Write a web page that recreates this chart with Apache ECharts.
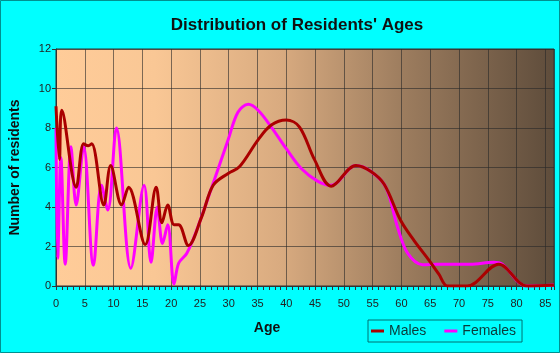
<!DOCTYPE html>
<html>
<head>
<meta charset="utf-8">
<script src="https://cdn.jsdelivr.net/npm/echarts@6/dist/echarts.min.js"></script>
<style>
  html, body { margin: 0; padding: 0; background: #00ffff; }
  #chart { width: 560px; height: 353px; }
</style>
</head>
<body>
<div id="chart"></div>
<script>
// ages, with the number of residents at each
const maleAges = [0, 0.6, 1, 3.5, 4.8, 5.6, 6.2, 8.3, 9.5, 11.4, 12.6, 15.5, 17.4, 18.4, 19.4, 20.5, 21.3, 23, 25.3, 27.3, 29.9, 31.9, 35.1, 37.4, 40, 42.3, 44.9, 47.8, 52.1, 54.7, 57, 59.9, 62.2, 64.8, 66.5, 68, 71.4, 76.9, 81.8, 86.5];
const maleValues = [9.1, 6.4, 8.9, 5.0, 7.2, 7.1, 7.2, 4.1, 6.1, 4.1, 5.0, 2.1, 5.0, 3.2, 4.1, 3.1, 3.1, 2.05, 3.5, 5.1, 5.7, 6.05, 7.4, 8.15, 8.4, 8.05, 6.4, 5.05, 6.1, 5.8, 5.15, 3.3, 2.3, 1.3, 0.6, 0, 0, 1.1, 0, 0.05];

const femaleAges = [0, 0.3, 0.85, 1.6, 2.6, 3.5, 4.8, 6.5, 7.9, 9.0, 10.5, 13, 15.3, 16.5, 17.6, 18.5, 19.4, 20.5, 21.3, 22.7, 24.4, 27.3, 29.9, 31.6, 33.4, 35.1, 37.4, 40, 42.6, 45.5, 47.8, 52.1, 54.7, 57.3, 59.3, 61.1, 63.7, 66.2, 72, 76, 77.5, 81.8, 86.5];
const femaleValues = [8, 1.4, 6.5, 1.1, 7.05, 4.1, 7.05, 1.05, 5.1, 3.85, 8.0, 0.9, 5.1, 1.2, 4.0, 2.15, 3.1, 0.1, 1.15, 1.65, 2.8, 5.2, 7.4, 8.8, 9.2, 8.9, 8.05, 6.95, 5.95, 5.3, 5.1, 6.1, 5.8, 5.0, 3.0, 1.65, 1.08, 1.1, 1.1, 1.2, 1.1, 0, 0.05];

const pairs = (xs, ys) => xs.map((x, i) => [x, ys[i]]);

const chart = echarts.init(document.getElementById("chart"));
const font = "Liberation Sans, Arial, sans-serif";

const option = {
  backgroundColor: "#00ffff",
  animation: false,
  title: {
    text: "Distribution of Residents' Ages",
    left: 292,
    top: 12,
    textAlign: "center",
    textStyle: { fontFamily: font, fontSize: 17, fontWeight: "bold", color: "#111" },
  },
  legend: {
    left: 368,
    top: 320,
    padding: [4, 6, 4, 3],
    itemGap: 18,
    itemWidth: 13,
    itemHeight: 3,
    icon: "rect",
    borderColor: "#007070",
    borderWidth: 1,
    data: ["Males", "Females"],
    textStyle: { fontFamily: font, fontSize: 14, color: "#0a3a3a" },
  },
  grid: {
    left: 54,
    right: 6,
    top: 49,
    bottom: 67,
    show: true,
    borderColor: "#333",
    borderWidth: 1,
    backgroundColor: {
      type: "linear", x: 0, y: 0, x2: 1, y2: 0,
      colorStops: [
        { offset: 0, color: "#ffcc99" },
        { offset: 0.2, color: "#f9c795" },
        { offset: 0.45, color: "#d9ab80" },
        { offset: 0.7, color: "#9c7c5e" },
        { offset: 1, color: "#5e4c3b" },
      ],
    },
  },
  xAxis: {
    type: "value",
    min: 0,
    max: 86.5,
    interval: 5,
    name: "Age",
    nameLocation: "middle",
    nameGap: 35,
    nameTextStyle: { fontFamily: font, fontSize: 14, fontWeight: "bold", color: "#111", padding: [0, 76, 0, 0] },
    axisLine: { lineStyle: { color: "#333" } },
    axisTick: { show: true, length: 4, lineStyle: { color: "#333" } },
    minorTick: { show: true, splitNumber: 5, length: 4, lineStyle: { color: "#333" } },
    axisLabel: { margin: 12, fontFamily: font, fontSize: 11, color: "#222" },
    splitLine: { show: true, lineStyle: { color: "rgba(40,40,40,0.6)" } },
  },
  yAxis: {
    type: "value",
    min: 0,
    max: 12,
    interval: 2,
    name: "Number of residents",
    nameLocation: "middle",
    nameGap: 34,
    nameTextStyle: { fontFamily: font, fontSize: 14, fontWeight: "bold", color: "#111" },
    axisLine: { show: true, lineStyle: { color: "#333" } },
    axisTick: { show: true, length: 4, lineStyle: { color: "#333" } },
    axisLabel: { margin: 5, fontFamily: font, fontSize: 11, color: "#222" },
    splitLine: { show: true, lineStyle: { color: "rgba(40,40,40,0.6)" } },
  },
  graphic: [
    {
      type: "rect",
      shape: { x: 0.5, y: 0.5, width: 559, height: 352 },
      style: { fill: "none", stroke: "#009090", lineWidth: 1 },
      silent: true,
    },
  ],
  series: [
    {
      name: "Females",
      type: "line",
      smooth: 0.35,
      symbol: "none",
      z: 2,
      lineStyle: { color: "#ff00ff", width: 3 },
      itemStyle: { color: "#ff00ff" },
      data: pairs(femaleAges, femaleValues),
    },
    {
      name: "Males",
      type: "line",
      smooth: 0.35,
      symbol: "none",
      z: 3,
      lineStyle: { color: "#aa0000", width: 3 },
      itemStyle: { color: "#aa0000" },
      data: pairs(maleAges, maleValues),
    },
  ],
};

chart.setOption(option);
</script>
</body>
</html>
